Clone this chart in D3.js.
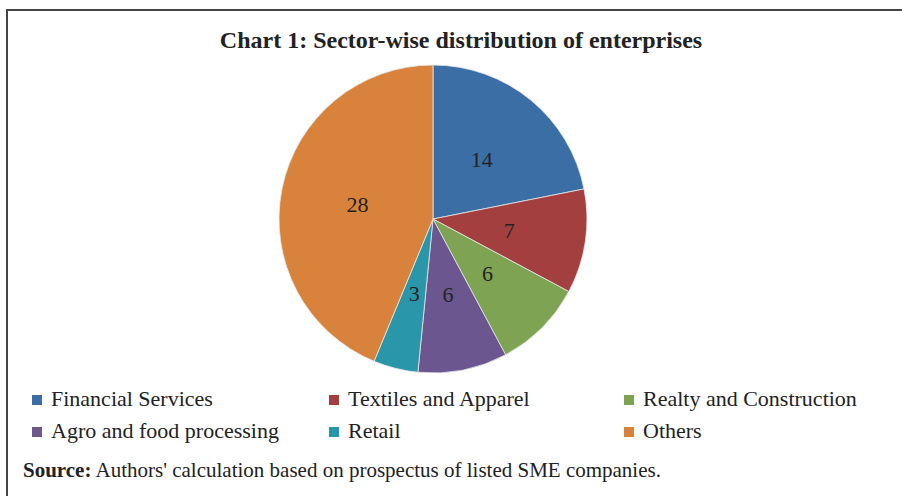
<!DOCTYPE html>
<html>
<head>
<meta charset="utf-8">
<script src="https://cdn.jsdelivr.net/npm/d3@7"></script>
<style>
    body { margin: 0; background: #fff; }
    svg { display: block; font-family: "Liberation Serif", "Times New Roman", serif; }
</style>
</head>
<body>
<svg id="chart" width="902" height="496"></svg>
<script>
const sectors = ['Financial Services', 'Textiles and Apparel', 'Realty and Construction',
    'Agro and food processing', 'Retail', 'Others'];
const counts = [14, 7, 6, 6, 3, 28];
const colors = ['#3a6ea5', '#a33f3f', '#7ea453', '#6b5690', '#2a96aa', '#d9823c'];

const svg = d3.select('#chart');
const [cx, cy, radius] = [433, 219, 154];

// frame (open on right and bottom, like the cropped original)
svg.append('path')
    .attr('d', 'M7,496 V10 H902')
    .attr('fill', 'none')
    .attr('stroke', '#444')
    .attr('stroke-width', 2);

svg.append('text')
    .attr('x', 461)
    .attr('y', 48)
    .attr('text-anchor', 'middle')
    .attr('font-size', 24)
    .attr('font-weight', 'bold')
    .attr('fill', '#222')
    .text('Chart 1: Sector-wise distribution of enterprises');

const data = sectors.map((name, i) => ({name: name, value: counts[i], color: colors[i]}));

const pie = d3.pie().sort(null).value(d => d.value);
const arc = d3.arc().innerRadius(0).outerRadius(radius);

const g = svg.append('g').attr('transform', `translate(${cx},${cy})`);
const arcs = pie(data);

g.selectAll('path')
    .data(arcs)
    .enter()
    .append('path')
    .attr('d', arc)
    .attr('fill', d => d.data.color)
    .attr('stroke', '#e8e8e8')
    .attr('stroke-width', 0.8);

g.selectAll('text')
    .data(arcs)
    .enter()
    .append('text')
    .attr('transform', d => `translate(${arc.centroid(d)})`)
    .attr('dy', '0.35em')
    .attr('text-anchor', 'middle')
    .attr('font-size', 22)
    .attr('fill', '#222')
    .text(d => d.data.value);

// legend: 3 columns, 2 rows
const colX = [32, 329, 624];
const rowY = [406, 438];
const legend = svg.selectAll('.legend')
    .data(data)
    .enter()
    .append('g')
    .attr('transform', (d, i) => `translate(${colX[i % 3]},${rowY[Math.floor(i / 3)]})`);

legend.append('rect')
    .attr('x', 0)
    .attr('y', -11)
    .attr('width', 10)
    .attr('height', 10)
    .attr('fill', d => d.color);

legend.append('text')
    .attr('x', 19)
    .attr('y', 0)
    .attr('font-size', 22)
    .attr('fill', '#222')
    .text(d => d.name);

const src = svg.append('text')
    .attr('x', 23)
    .attr('y', 477)
    .attr('font-size', 21)
    .attr('fill', '#222');
src.append('tspan').attr('font-weight', 'bold').text('Source:');
src.append('tspan').text(" Authors' calculation based on prospectus of listed SME companies.");
</script>
</body>
</html>
